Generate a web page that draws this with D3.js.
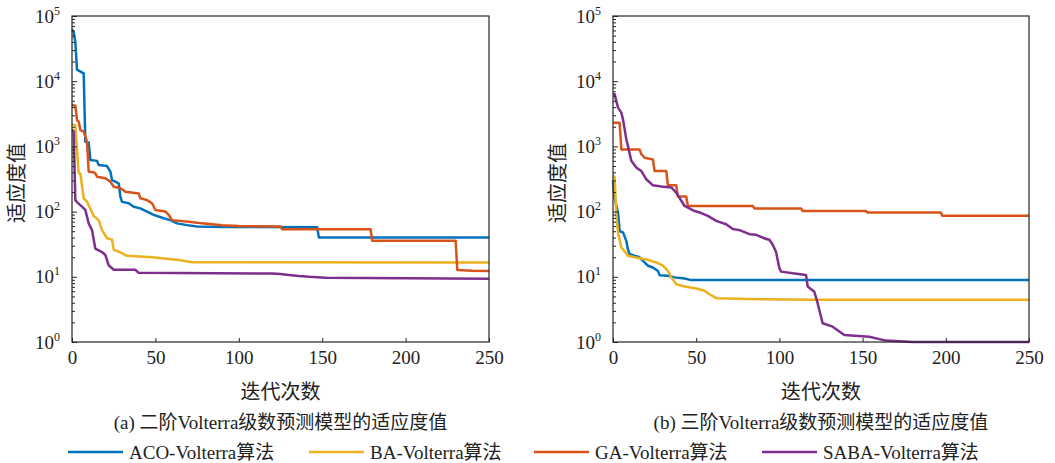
<!DOCTYPE html>
<html>
<head>
<meta charset="utf-8">
<script src="https://cdn.jsdelivr.net/npm/d3@7"></script>
<style>
  body { margin: 0; background: #ffffff; }
  svg { display: block; }
  svg text { font-family: "Liberation Serif", "Times New Roman", "Noto Sans CJK SC", serif !important; }
</style>
</head>
<body>
<svg id="chart" width="1055" height="463"></svg>
<script>
// Axis ticks and labels
const xTicks = [0, 50, 100, 150, 200, 250];
const yExponents = [0, 1, 2, 3, 4, 5];
const xTitle = "迭代次数";
const yTitle = "适应度值";
const panelTitles = ["(a) 二阶Volterra级数预测模型的适应度值", "(b) 三阶Volterra级数预测模型的适应度值"];
const seriesNames = ["ACO-Volterra算法", "BA-Volterra算法", "GA-Volterra算法", "SABA-Volterra算法"];
const seriesColors = ["#0072BD", "#EDB120", "#D95319", "#7E2F8E"];

// Best fitness per iteration, second-order Volterra model: [iteration, fitness]
const acoA = [[0,62000],[1,57000],[2,40000],[3,15000],[7,13200],[8,1180],[10,1150],[11,620],[15,600],[16,520],[21,500],[23,410],[24,305],[26,288],[28,270],[29,170],[30,141],[34,134],[37,119],[41,112],[45,100],[49,89],[55,79],[59,74],[63,66],[69,62],[75,59],[90,58],[147,57.5],[148,40],[250,40]];
const baA = [[0,2200],[2,2100],[4,390],[5,385],[7,160],[9,142],[13,86],[16,74],[18,52],[21,39],[24,37],[25,26],[28,24.3],[33,21],[48,20],[64,18.1],[72,16.7],[250,16.5]];
const gaA = [[0,4300],[2,4200],[3,2540],[4,2400],[5,1780],[7,1680],[8,1410],[9,1180],[10,410],[13,400],[14,386],[15,343],[20,324],[23,288],[25,241],[29,228],[32,202],[40,190],[41,160],[45,150],[48,134],[50,106],[56,100],[58,89],[60,74],[70,70],[78,66],[90,62],[100,60],[125,59],[126,53.5],[179,53.5],[180,35.7],[230,35.7],[231,12.7],[240,12.4],[250,12.3]];
const sabaA = [[0,1800],[1,1700],[2,150],[3,140],[6,119],[8,106],[10,66],[12,52],[14,27],[18,24],[20,21.6],[22,15],[24,13.5],[25,12.8],[38,12.8],[40,11.5],[120,11.2],[125,11],[130,10.7],[136,10.3],[142,10],[152,9.7],[200,9.5],[250,9.3]];

// Best fitness per iteration, third-order Volterra model: [iteration, fitness]
const acoB = [[0,300],[1,160],[3,97],[4,50],[6,48],[8,35.6],[9,26],[10,22.3],[13,21],[16,19.9],[18,17.6],[20,15.7],[21,14.8],[24,13.9],[27,12.3],[28,10.6],[33,10.4],[37,9.8],[43,9.4],[47,8.9],[250,8.9]];
const baB = [[0,350],[1,340],[2,90],[3,48],[5,28],[6,26.5],[9,21],[13,19.9],[17,19.1],[21,18.2],[26,16.6],[30,14.8],[33,12.3],[35,9.8],[38,7.7],[43,7.1],[50,6.6],[55,6.1],[58,5.4],[62,4.7],[81,4.55],[120,4.45],[250,4.45]];
const gaB = [[0,2300],[4,2300],[5,900],[16,900],[17,760],[19,670],[24,630],[25,420],[32,420],[33,253],[38,253],[39,170],[44,170],[45,122],[84,122],[85,112],[113,112],[114,102],[152,102],[153,97],[197,97],[198,86],[250,86]];
const sabaB = [[0,6300],[1,6300],[3,3930],[5,3300],[6,2600],[8,1290],[9,1010],[11,600],[14,473],[17,420],[20,313],[24,253],[29,243],[35,235],[38,196],[43,122],[49,102],[53,95],[57,86],[62,72],[68,64],[72,54],[76,52],[82,45],[86,44],[92,38],[94,37],[96,31],[98,24],[100,13.5],[101,12],[108,11.3],[116,10.7],[117,7.1],[121,5.9],[123,3.9],[126,1.94],[132,1.72],[139,1.28],[154,1.2],[164,1.05],[180,1.0],[250,1.0]];

const panelSeries = [[acoA, baA, gaA, sabaA], [acoB, baB, gaB, sabaB]];

const svg = d3.select("#chart");
const axisColor = "#262626";
const textColor = "#222";

const panels = [
  { left: 72, right: 489, top: 16, bottom: 342 },
  { left: 613, right: 1029, top: 16, bottom: 342 }
];

panels.forEach((p, pi) => {
  const x = d3.scaleLinear().domain([0, 250]).range([p.left, p.right]);
  const y = d3.scaleLog().domain([1, 1e5]).range([p.bottom, p.top]);
  const g = svg.append("g");

  // convergence curves
  const line = d3.line().x(d => x(d[0])).y(d => y(d[1]));
  panelSeries[pi].forEach((data, si) => {
    g.append("path")
      .datum(data)
      .attr("d", line)
      .attr("fill", "none")
      .attr("stroke", seriesColors[si])
      .attr("stroke-width", 2.5)
      .attr("stroke-linejoin", "round");
  });

  // x axis ticks (inward)
  const xAxis = g.append("g")
    .attr("transform", `translate(0,${p.bottom})`)
    .call(d3.axisBottom(x).tickValues(xTicks).tickSizeInner(-4).tickSizeOuter(0));
  xAxis.attr("font-size", 19);
  xAxis.select(".domain").remove();
  xAxis.selectAll("line").attr("stroke", axisColor);
  xAxis.selectAll("text")
    .attr("fill", textColor)
    .attr("dy", "0.32em")
    .attr("y", 16);

  // y axis minor ticks
  const minor = [];
  for (let e = 0; e < 5; e++) for (let m = 2; m <= 9; m++) minor.push(m * Math.pow(10, e));
  const yMinor = g.append("g")
    .attr("transform", `translate(${p.left},0)`)
    .call(d3.axisLeft(y).tickValues(minor).tickSizeInner(-3).tickSizeOuter(0).tickFormat(""));
  yMinor.select(".domain").remove();
  yMinor.selectAll("line").attr("stroke", axisColor);

  // y axis major ticks with power-of-ten labels
  const majors = yExponents.map(e => Math.pow(10, e));
  const yMajor = g.append("g")
    .attr("transform", `translate(${p.left},0)`)
    .call(d3.axisLeft(y).tickValues(majors).tickSizeInner(-5).tickSizeOuter(0).tickFormat(""));
  yMajor.select(".domain").remove();
  yMajor.selectAll("line").attr("stroke", axisColor);
  yMajor.selectAll(".tick").each(function(d) {
    const t = d3.select(this).append("text")
      .attr("x", -12)
      .attr("y", 6)
      .attr("text-anchor", "end")
      .attr("fill", textColor)
      .attr("font-size", 19);
    t.append("tspan").text("10");
    t.append("tspan")
      .attr("font-size", 12)
      .attr("dy", -8)
      .text(Math.round(Math.log10(d)));
  });

  // frame
  g.append("rect")
    .attr("x", p.left).attr("y", p.top)
    .attr("width", p.right - p.left).attr("height", p.bottom - p.top)
    .attr("fill", "none").attr("stroke", axisColor).attr("stroke-width", 1.2);

  // axis titles
  const cx = (p.left + p.right) / 2;
  g.append("text")
    .attr("x", cx).attr("y", 399)
    .attr("text-anchor", "middle")
    .attr("font-size", 20)
    .attr("fill", textColor)
    .text(xTitle);
  g.append("text")
    .attr("transform", `translate(${p.left - 48},183) rotate(-90)`)
    .attr("text-anchor", "middle")
    .attr("font-size", 20)
    .attr("fill", textColor)
    .text(yTitle);

  // panel caption
  g.append("text")
    .attr("x", cx).attr("y", 429)
    .attr("text-anchor", "middle")
    .attr("font-size", 19)
    .attr("fill", textColor)
    .text(panelTitles[pi]);
});

// legend
const legendX = [68, 309, 534, 762];
const legend = svg.append("g");
seriesNames.forEach((name, i) => {
  legend.append("line")
    .attr("x1", legendX[i]).attr("x2", legendX[i] + 55)
    .attr("y1", 452).attr("y2", 452)
    .attr("stroke", seriesColors[i]).attr("stroke-width", 2.5);
  legend.append("text")
    .attr("x", legendX[i] + 61).attr("y", 459)
    .attr("font-size", 19)
    .attr("fill", textColor)
    .text(name);
});
</script>
</body>
</html>
